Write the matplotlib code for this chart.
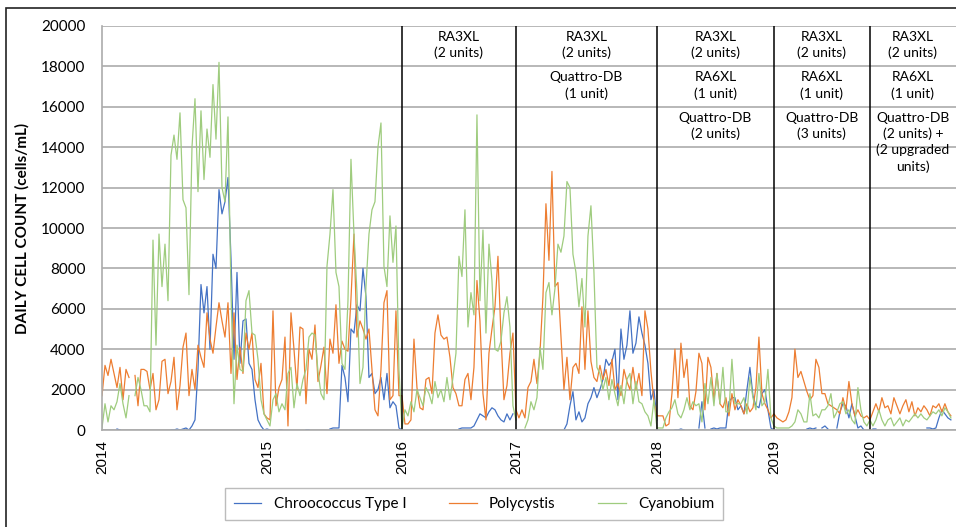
import numpy as np
import matplotlib
matplotlib.use("Agg")
import matplotlib.pyplot as plt
from matplotlib.patches import Rectangle

plt.rcParams['font.family'] = ['Lato', 'DejaVu Sans']

years = ["2014", "2015", "2016", "2017", "2018", "2019", "2020"]
samples_per_year = [55, 45, 38, 47, 39, 32, 28]

# daily cell counts in thousands of cells/mL, one value per sample (None = no data)
chroococcus = [
    # 2014
    None, None, None, None, None, 0.05, 0.0, None, None, None, None, None, None, None,
    None, None, None, None, None, None, None, None, None, 0.0, 0.0, 0.05, 0.0, 0.05,
    0.1, 0.0, 0.2, 0.5, 3.0, 7.2, 5.8, 7.1, 4.0, 8.7, 8.0, 11.9, 10.7, 11.3, 12.5, 8.5,
    3.5, 7.8, 3.3, 5.4, 5.5, 3.3, 3.0, 1.5, 0.5, 0.2, 0.0,
    # 2015
    0.05, 0.0, None, None, 0.0, 0.0, None, None, None, None, None, None, None, 0.0, 0.0,
    None, None, None, None, None, None, 0.05, 0.1, 0.1, 0.1, 3.2, 2.6, 1.4, 5.0, 4.8,
    6.2, 5.9, 8.0, 6.6, 2.6, 2.8, 1.8, 2.0, 2.6, 1.5, 2.8, 1.1, 1.4, 1.2, 0.1,
    # 2016
    0.0, None, None, 0.0, 0.0, None, None, None, None, None, None, None, None, None,
    None, None, None, None, None, 0.05, 0.1, 0.1, 0.1, 0.1, 0.2, 0.5, 0.8, 0.7, 0.6,
    0.9, 1.1, 1.0, 0.7, 0.5, 0.4, 0.8, 0.5, 0.8,
    # 2017
    None, None, None, None, None, None, None, None, None, None, None, None, None, None,
    None, None, 0.0, 0.3, 1.2, 1.9, 0.5, 0.9, 0.4, 0.6, 1.3, 1.6, 2.1, 1.6, 2.0, 2.5,
    3.5, 3.2, 3.4, 4.0, 1.5, 5.0, 3.5, 4.2, 5.9, 3.8, 4.3, 5.6, 4.8, 4.2, 3.3, 1.5, 2.0,
    # 2018
    0.5, None, None, None, None, None, 0.0, 0.0, 0.05, 0.0, None, None, None, None,
    0.1, 1.4, 0.1, None, 0.05, 0.1, 0.05, 0.1, 0.1, 0.1, 1.4, 1.6, 1.6, 1.0, 1.2, 0.8,
    2.0, 3.1, 1.7, 1.2, 1.1, 1.8, 2.0, 1.0, 0.1,
    # 2019
    0.0, None, None, None, None, None, None, None, None, None, None, 0.05, 0.1, 0.05,
    0.1, None, 0.1, 0.2, 0.05, None, None, 0.1, 0.9, 1.3, 1.2, 0.6, 1.3, 0.7, 0.1, 0.2,
    0.0, None,
    # 2020
    None, 0.05, 0.05, None, None, None, None, None, None, None, None, None, None, None,
    None, None, None, None, None, 0.1, 0.1, 0.05, 0.1, 0.6, 1.0, 0.8, 0.6, 0.5,
]

polycystis = [
    # 2014
    1.7, 3.2, 2.7, 3.5, 2.8, 2.1, 3.1, 1.5, 3.0, 2.6, None, 2.7, 1.2, 3.0, 3.0, 2.9,
    2.0, 2.8, 1.0, 1.5, 3.4, 3.5, 1.8, 2.4, 3.6, 1.0, 2.2, 4.1, 4.8, 1.7, 3.0, 2.0,
    4.2, 3.6, 3.1, 5.8, 4.5, 3.8, 5.1, 6.3, 5.4, 4.6, 6.3, 2.8, 5.8, 2.5, 4.1, 2.8,
    4.8, 4.0, 4.8, 2.5, 2.1, 3.3, 0.8,
    # 2015
    0.6, 0.5, 5.9, 1.2, 2.1, 2.5, 4.6, 0.2, 5.8, 4.0, 2.0, 5.1, 5.0, 1.3, 4.0, 3.5,
    5.2, 2.4, 3.2, 4.1, 1.8, 4.5, 3.8, 6.2, 3.3, 4.4, 4.0, 3.9, 6.5, 9.7, 4.6, 5.4,
    5.0, 4.5, 5.0, 3.0, 1.0, 0.7, 3.0, 6.3, 6.9, 1.5, 1.7, 5.9, 1.7,
    # 2016
    1.7, 0.3, 0.3, 0.5, 4.5, 2.1, 1.1, 1.0, 2.5, 2.6, 1.8, 4.8, 5.7, 4.7, 4.5, 4.6,
    3.6, 2.1, 1.8, 1.2, 1.2, 2.5, 2.8, 1.5, 3.1, 7.4, 5.4, 1.8, 0.5, 3.8, 5.0, 6.1,
    8.6, 4.7, 1.5, 2.2, 3.8, 4.8,
    # 2017
    1.0, 0.6, 1.0, 0.6, 2.1, 2.4, 3.5, 2.3, 3.8, 6.6, 11.2, 8.4, 12.8, 7.1, 7.3, 4.6,
    2.0, 3.6, 1.5, 3.1, 3.3, 2.8, 6.1, 3.0, 5.9, 3.4, 2.6, 2.4, 3.2, 2.5, 3.0, 2.2,
    3.5, 2.0, 2.3, 1.7, 3.0, 2.4, 2.0, 3.1, 2.0, 2.8, 1.7, 5.9, 5.0, 2.9, 1.4,
    # 2018
    0.7, 0.7, 0.7, 0.2, 0.3, 1.8, 4.0, 1.6, 4.3, 2.6, 3.5, 1.2, 1.0, 1.9, 3.8, 3.3,
    1.0, 3.6, 3.1, 1.5, 2.8, 1.3, 1.1, 1.6, 0.7, 1.8, 1.0, 1.5, 1.2, 0.8, 1.3, 0.9,
    1.1, 2.1, 4.6, 1.8, 1.3, 1.0, 0.6,
    # 2019
    0.8, 0.6, 0.5, 0.4, 0.5, 0.9, 1.6, 4.0, 2.6, 2.9, 2.4, 1.9, 1.5, 1.7, 3.5, 3.1,
    1.8, 1.8, 1.3, 1.2, 1.1, 1.0, 0.8, 1.6, 1.0, 2.4, 1.3, 0.7, 1.0, 0.7, 0.6, 0.7,
    # 2020
    0.5, 0.9, 1.3, 0.9, 1.6, 1.1, 1.2, 0.8, 1.6, 1.2, 0.8, 1.2, 1.5, 0.9, 1.4, 0.7,
    1.1, 0.9, 1.2, 1.0, 0.7, 1.2, 1.1, 1.3, 0.9, 1.3, 0.9, 0.7,
]

cyanobium = [
    # 2014
    0.1, 1.3, 0.4, 1.2, 1.0, 1.4, 2.3, 1.3, 0.6, 1.7, None, 1.7, 2.6, 2.0, 1.2, 1.2,
    0.9, 9.4, 4.2, 9.7, 7.1, 9.2, 6.4, 13.6, 14.6, 13.4, 15.7, 11.4, 11.0, 6.7, 14.0,
    16.4, 11.8, 15.8, 12.4, 14.9, 13.5, 17.1, 14.4, 18.2, 12.0, 11.3, 15.5, 6.8, 1.3,
    4.2, 3.0, 2.9, 6.4, 6.9, 4.8, 4.7, 3.5, 1.5, 0.8,
    # 2015
    0.5, 0.2, 1.5, 1.8, 0.9, 1.3, 1.0, 2.8, 3.1, 1.1, 2.3, 1.7, 2.5, 3.0, 4.6, 4.8,
    4.7, 2.9, 1.8, 1.5, 8.1, 9.7, 11.9, 7.8, 7.1, 3.3, 3.0, 6.4, 13.4, 9.7, 6.8, 2.3,
    3.1, 7.1, 9.7, 10.9, 11.3, 14.0, 15.2, 8.1, 7.1, 10.6, 8.3, 10.1, 3.0,
    # 2016
    0.1, 1.0, 0.7, 1.4, 0.9, 2.0, 1.6, 1.2, 2.1, 1.8, 1.3, 2.4, 1.6, 2.0, 1.4, 2.6,
    1.5, 2.6, 3.8, 8.6, 7.6, 10.9, 5.1, 6.8, 5.7, 15.6, 6.4, 9.9, 4.8, 9.2, 7.4, 4.0,
    3.9, 4.4, 5.8, 6.6, 5.1, 1.2,
    # 2017
    0.5, None, None, 0.1, 0.5, 1.4, 1.0, 1.6, 4.1, 3.0, 6.8, 7.3, 5.7, 7.0, 9.2, 8.8,
    9.6, 12.3, 12.0, 8.7, 7.8, 6.1, 7.5, 5.1, 9.6, 11.1, 7.8, 3.1, 2.8, 2.0, 2.6, 1.5,
    2.5, 1.8, 1.2, 2.2, 1.3, 2.5, 2.8, 1.3, 2.4, 1.4, 1.3, 0.9, 0.7, 0.2, 1.5,
    # 2018
    0.1, 0.1, 0.1, 0.6, 0.9, 1.1, 1.5, 0.8, 0.6, 1.0, 1.6, 1.0, 1.4, 1.2, 1.3, 0.4,
    2.3, 1.3, 2.6, 1.2, 2.8, 1.3, 3.1, 0.9, 0.9, 3.5, 1.3, 1.3, 1.3, 1.6, 0.8, 2.6,
    1.6, 1.0, 2.8, 1.2, 1.4, 3.0, 0.6,
    # 2019
    0.2, 0.1, 0.1, 0.1, 0.1, 0.1, 0.2, 0.4, 1.0, 0.8, 0.4, 0.4, 1.8, 0.7, 0.8, 0.6,
    1.0, 1.0, 1.2, 1.8, 0.6, 0.9, 1.3, 1.4, 0.8, 1.0, 0.5, 0.3, 2.1, 1.0, 0.4, 0.2,
    # 2020
    0.5, 0.2, 0.5, 1.0, 0.5, 0.2, 0.5, 0.6, 0.2, 0.4, 0.6, 0.2, 0.5, 0.4, 0.6, 0.8,
    0.6, 0.8, 0.6, 0.5, 0.7, 0.9, 0.8, 1.0, 0.7, 1.1, 0.9, 0.6,
]

series_names = ["Chroococcus Type I", "Polycystis", "Cyanobium"]
series_colors = ["#4472C4", "#ED7D31", "#9FCC7E"]

# treatment installed from each year on
treatments = {
    "2016": ["RA3XL\n(2 units)"],
    "2017": ["RA3XL\n(2 units)", "Quattro-DB\n(1 unit)"],
    "2018": ["RA3XL\n(2 units)", "RA6XL\n(1 unit)", "Quattro-DB\n(2 units)"],
    "2019": ["RA3XL\n(2 units)", "RA6XL\n(1 unit)", "Quattro-DB\n(3 units)"],
    "2020": ["RA3XL\n(2 units)", "RA6XL\n(1 unit)",
             "Quattro-DB\n(2 units) +\n(2 upgraded\nunits)"],
}

fig = plt.figure(figsize=(9.56, 5.27), dpi=100)
ax = fig.add_axes([102 / 956, 97 / 527, 854 / 956, 404 / 527])

n = len(chroococcus)
x = np.arange(n)
for vals, name, col in zip([chroococcus, polycystis, cyanobium], series_names, series_colors):
    ax.plot(x, np.array(vals, dtype=float) * 1000, color=col, lw=0.9, label=name)

ax.set_xlim(0, n + 0.7)
ax.set_ylim(0, 20000)
ax.set_yticks(range(0, 20001, 2000))
ax.grid(axis='y', color='#ABABAB', lw=1.2)
ax.set_axisbelow(True)
ax.tick_params(axis='y', length=0, pad=12, labelsize=11)

starts = np.concatenate([[0], np.cumsum(samples_per_year)[:-1]])
ax.set_xticks(starts)
ax.set_xticklabels(years, rotation=90, fontsize=11, family='Liberation Sans')
ax.tick_params(axis='x', length=0, pad=7)

for s in ['top', 'right']:
    ax.spines[s].set_visible(False)
for s in ['left', 'bottom']:
    ax.spines[s].set_color('#ABABAB')
    ax.spines[s].set_linewidth(1.2)

ax.set_ylabel("DAILY CELL COUNT (cells/mL)", fontsize=11, fontweight='bold', labelpad=8)

# year boundaries and treatment labels
bounds = list(starts) + [n + 0.7]
for yr, blocks in treatments.items():
    k = years.index(yr)
    ax.axvline(starts[k], color='black', lw=1.1)
    cx = (bounds[k] + bounds[k + 1]) / 2
    for r, txt in enumerate(blocks):
        ax.text(cx, 20000 - 2000 * r - 250, txt, ha='center', va='top',
                fontsize=10, linespacing=1.35)

fig.legend(loc='center', bbox_to_anchor=(474 / 956, 1 - 504 / 527), ncol=3,
           frameon=True, fancybox=False, edgecolor='#ABABAB', fontsize=11,
           handlelength=1.8, columnspacing=2.8, borderpad=0.6)

fig.add_artist(Rectangle((6 / 956, -0.1), 1.2, 1.1 - 8 / 527, transform=fig.transFigure,
                         fill=False, ec='#222222', lw=1.2, clip_on=False))

fig.savefig("out.png", dpi=100)
